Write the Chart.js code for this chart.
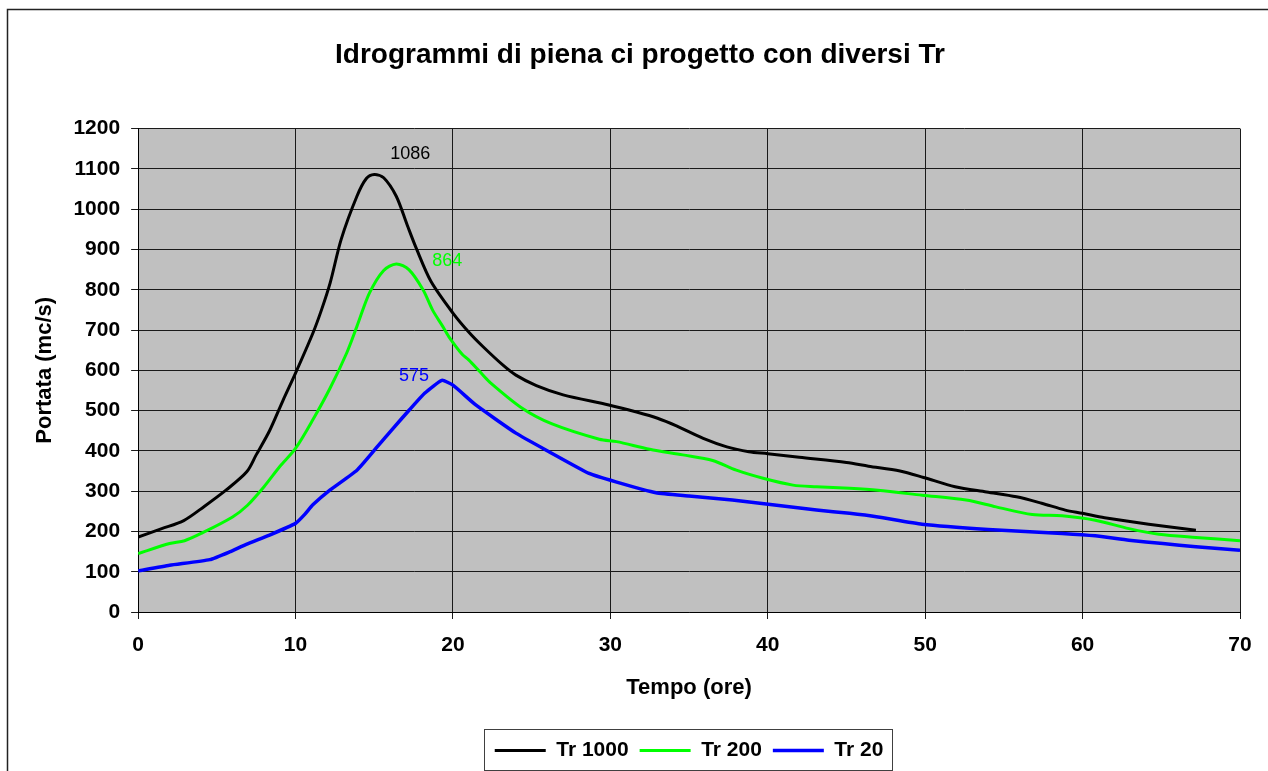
<!DOCTYPE html>
<html>
<head>
<meta charset="utf-8">
<title>Idrogrammi di piena</title>
<script src="https://cdn.jsdelivr.net/npm/chart.js@4.4.1/dist/chart.umd.min.js"></script>
<style>
    html, body { margin: 0; padding: 0; background: #ffffff; overflow: hidden; }
    #chart { display: block; }
</style>
</head>
<body>
<canvas id="chart" width="1268" height="771"></canvas>
<script>
// Tempo (ore) / Portata (mc/s)
const tr1000Time = [0, 1.5, 2.9, 4.2, 5.6, 6.9, 7.5, 8.35, 9.2, 10, 11.1, 11.65, 12.2, 12.9, 13.9, 14.5, 15.0, 15.6, 16.4, 17.1, 17.7, 18.6, 20, 21.0, 21.9, 23.2, 24.0, 25.3, 27.0, 29.9, 31.6, 33.0, 34.2, 35.9, 37.4, 38.8, 40, 42, 45, 46.4, 48.4, 49.9, 51.9, 53.9, 55.8, 57.4, 58.9, 60, 61.4, 64.2, 67.2];
const tr1000Flow = [186, 207, 227, 262, 303, 348, 390, 450, 525, 593, 692, 750, 817, 925, 1032, 1076, 1086, 1078, 1032, 960, 900, 821, 742, 695, 659, 612, 588, 562, 539, 514, 497, 481, 462, 431, 410, 398, 393, 384, 371, 362, 350, 334, 311, 298, 286, 270, 253, 245, 234, 218, 203];

const tr200Time = [0, 2.0, 2.95, 4.0, 6.0, 6.95, 8.0, 9.0, 10, 11.1, 12.2, 13.25, 13.9, 14.7, 15.6, 16.4, 17.2, 18.1, 18.7, 19.35, 19.8, 20.6, 21.0, 21.7, 22.3, 24.4, 26.3, 29.3, 30.4, 32.5, 34.6, 36.5, 38.0, 39.7, 41.6, 43.1, 45.2, 47, 49.8, 52.6, 54.5, 56.8, 58.7, 60.8, 62.95, 64.85, 67.2, 70];
const tr200Flow = [145, 170, 177, 195, 236, 265, 311, 361, 406, 477, 556, 643, 709, 792, 848, 864, 850, 800, 750, 709, 680, 639, 626, 597, 572, 506, 467, 429, 423, 404, 390, 376, 352, 332, 315, 311, 307, 302, 290, 278, 261, 242, 239, 228, 207, 193, 185, 177];

const tr20Time = [0, 2.0, 4.55, 5.8, 6.87, 8.35, 10, 10.6, 11.1, 12.2, 13.9, 15.1, 16.2, 17.24, 18.2, 19.3, 20, 21.45, 24.0, 26.1, 28.65, 30.35, 32.9, 35.0, 37.75, 39.9, 43.1, 45.2, 47, 49.8, 54.0, 58.7, 60.8, 62.95, 65.1, 67.2, 70];
const tr20Flow = [102, 116, 130, 149, 168, 191, 220, 243, 266, 303, 352, 406, 456, 502, 543, 575, 563, 514, 444, 398, 344, 323, 296, 288, 278, 268, 253, 245, 236, 218, 205, 195, 189, 178, 170, 162, 153];

const seriesNames = ['Tr 1000', 'Tr 200', 'Tr 20'];
const seriesColors = ['#000000', '#00ff00', '#0000ff'];

const FONT = "'Liberation Sans', Arial, sans-serif";

function toPoints(xs, ys) {
    return xs.map((x, i) => ({ x: x, y: ys[i] }));
}

// Plot background and outer frame
const frameAndBackground = {
    id: 'frameAndBackground',
    beforeDraw(chart) {
        const { ctx, chartArea: a } = chart;
        ctx.save();
        ctx.fillStyle = '#c0c0c0';
        ctx.fillRect(a.left, a.top, a.right - a.left, a.bottom - a.top);
        ctx.strokeStyle = '#222222';
        ctx.lineWidth = 1.5;
        ctx.beginPath();
        ctx.moveTo(7.5, chart.height);
        ctx.lineTo(7.5, 9.5);
        ctx.lineTo(chart.width, 9.5);
        ctx.stroke();
        ctx.restore();
    },
    afterDraw(chart) {
        // box round the legend
        const boxes = chart.legend && chart.legend.legendHitBoxes;
        if (!boxes || !boxes.length) return;
        const first = boxes[0], last = boxes[boxes.length - 1];
        const ctx = chart.ctx;
        ctx.save();
        ctx.strokeStyle = '#404040';
        ctx.lineWidth = 1;
        const l = Math.round(first.left - 11) + 0.5;
        const r = Math.round(last.left + last.width + 9) + 0.5;
        const t = Math.round(first.top - 11) + 0.5;
        const b = Math.round(first.top + first.height + 9) + 0.5;
        ctx.strokeRect(l, t, r - l, b - t);
        ctx.restore();
    }
};

// Peak value labels
const peakLabels = {
    id: 'peakLabels',
    afterDatasetsDraw(chart) {
        const offsets = [[36, -20], [51, -3], [-28, -4]];
        const ctx = chart.ctx;
        ctx.save();
        ctx.font = '18px ' + FONT;
        ctx.textAlign = 'center';
        ctx.textBaseline = 'middle';
        chart.data.datasets.forEach((ds, i) => {
            let best = 0;
            ds.data.forEach((p, j) => { if (p.y > ds.data[best].y) best = j; });
            const pt = chart.getDatasetMeta(i).data[best];
            ctx.fillStyle = ds.borderColor;
            ctx.fillText(String(Math.round(ds.data[best].y)), pt.x + offsets[i][0], pt.y + offsets[i][1]);
        });
        ctx.restore();
    }
};

new Chart(document.getElementById('chart'), {
    type: 'line',
    data: {
        datasets: [
            { label: seriesNames[0], data: toPoints(tr1000Time, tr1000Flow), borderColor: seriesColors[0], backgroundColor: seriesColors[0], borderWidth: 3, tension: 0.3 },
            { label: seriesNames[1], data: toPoints(tr200Time, tr200Flow), borderColor: seriesColors[1], backgroundColor: seriesColors[1], borderWidth: 3, tension: 0.3 },
            { label: seriesNames[2], data: toPoints(tr20Time, tr20Flow), borderColor: seriesColors[2], backgroundColor: seriesColors[2], borderWidth: 3.5, tension: 0.15 }
        ]
    },
    options: {
        responsive: false,
        animation: false,
        elements: { point: { radius: 0 } },
        layout: { padding: { left: 12, right: 0, top: 10, bottom: 0 } },
        scales: {
            x: {
                type: 'linear',
                min: 0,
                max: 70,
                ticks: { stepSize: 10, padding: 14, color: '#000', font: { family: FONT, size: 21, weight: 'bold' }, callback: v => String(v) },
                grid: { color: '#1a1a1a', lineWidth: 1, tickLength: 7 },
                border: { color: '#000', width: 1 },
                title: { display: true, text: 'Tempo (ore)', color: '#000', font: { family: FONT, size: 22, weight: 'bold' }, padding: { top: 2.6, bottom: 27.8 } }
            },
            y: {
                min: 0,
                max: 1200,
                ticks: { stepSize: 100, padding: 11, color: '#000', font: { family: FONT, size: 21, weight: 'bold' }, callback: v => String(v) },
                grid: { color: '#1a1a1a', lineWidth: 1, tickLength: 7 },
                border: { color: '#000', width: 1 },
                title: { display: true, text: 'Portata (mc/s)', color: '#000', font: { family: FONT, size: 22, weight: 'bold' }, padding: { top: 20, bottom: 4 } }
            },
            yRight: {
                position: 'right',
                display: true,
                ticks: { display: false },
                grid: { display: false, drawTicks: false },
                border: { display: false },
                afterFit(scale) { scale.width = 28; }
            }
        },
        plugins: {
            title: {
                display: true,
                text: 'Idrogrammi di piena ci progetto con diversi Tr',
                color: '#000',
                font: { family: FONT, size: 28, weight: 'bold' },
                padding: { top: 28.5, bottom: 56.5 }
            },
            legend: {
                position: 'bottom',
                fullSize: false,
                labels: {
                    usePointStyle: true,
                    pointStyle: 'line',
                    pointStyleWidth: 51,
                    boxHeight: 21,
                    padding: 11,
                    color: '#000',
                    font: { family: FONT, size: 21, weight: 'bold' }
                }
            },
            tooltip: { enabled: false }
        }
    },
    plugins: [frameAndBackground, peakLabels]
});
</script>
</body>
</html>
